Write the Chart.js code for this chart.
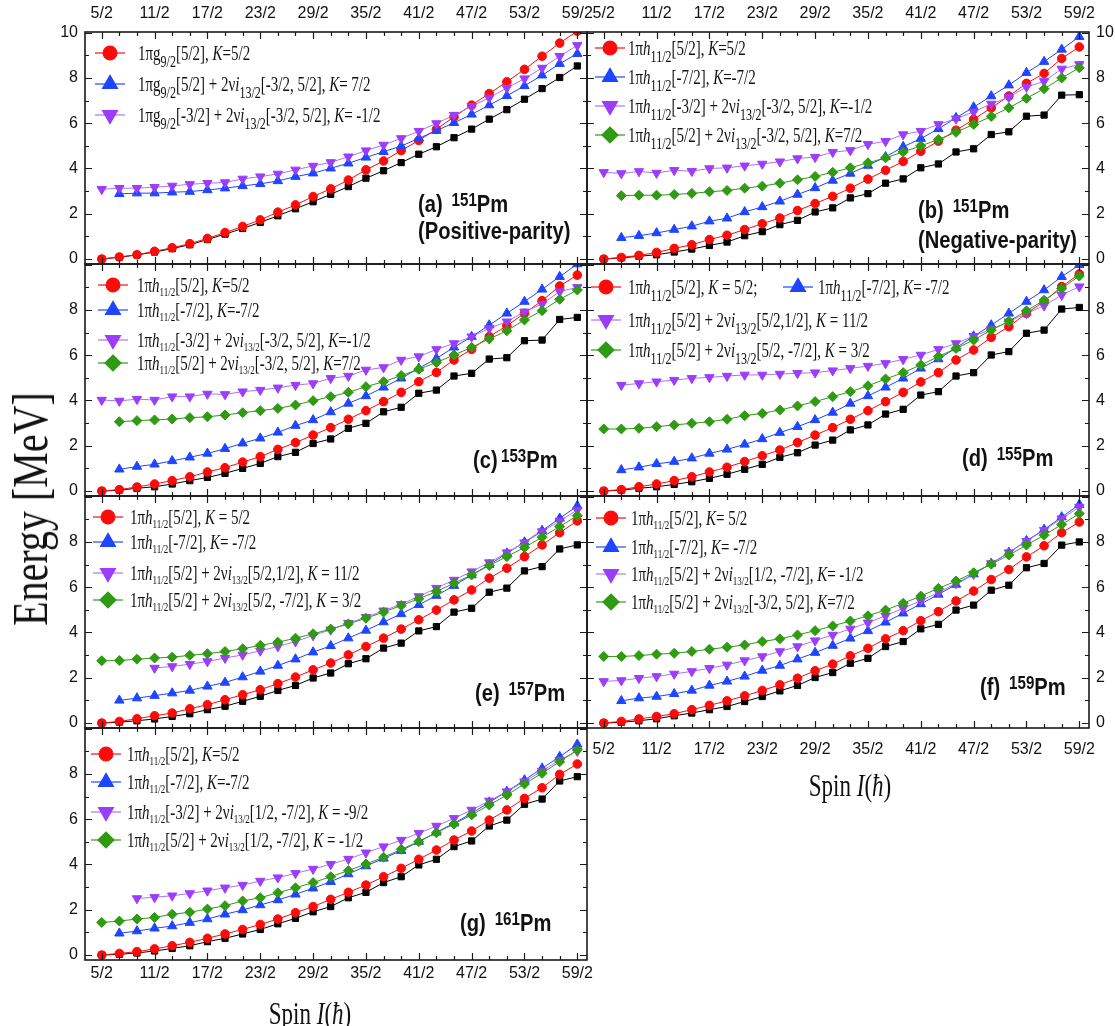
<!DOCTYPE html>
<html>
<head>
<meta charset="utf-8">
<script src="https://cdn.jsdelivr.net/npm/chart.js@4.4.0/dist/chart.umd.min.js"></script>
<style>
  body { margin: 0; background: #fff; }
  #fig { position: relative; width: 1115px; height: 1026px; overflow: hidden; background: #fff; }
  #fig canvas { position: absolute; }
  .leg { position: absolute; white-space: nowrap; font-family: "Liberation Serif", "Times New Roman", serif;
         font-size: 20px; line-height: 22px; color: #111; transform: scaleX(0.75); transform-origin: 0 50%; }
  .leg sub { font-size: 0.6em; vertical-align: -0.35em; line-height: 0; }
  .leg.big sub { font-size: 0.8em; vertical-align: -0.45em; }
  .tag { position: absolute; white-space: nowrap; font-family: "Liberation Sans", Arial, sans-serif;
         font-weight: bold; font-size: 24px; line-height: 26px; color: #111; transform: scaleX(0.84); transform-origin: 0 50%; }
  .tag sup { font-size: 0.75em; vertical-align: 0.35em; line-height: 0; margin-left: 4px; }
  .title { position: absolute; white-space: nowrap; font-family: "Liberation Serif", "Times New Roman", serif; color: #111; }
</style>
</head>
<body>
<div id="fig"></div>
<script>
"use strict";

// ── Data ────────────────────────────────────────────────────────────────
const spins = [2.5, 3.5, 4.5, 5.5, 6.5, 7.5, 8.5, 9.5, 10.5, 11.5, 12.5, 13.5, 14.5, 15.5,
  16.5, 17.5, 18.5, 19.5, 20.5, 21.5, 22.5, 23.5, 24.5, 25.5, 26.5, 27.5, 28.5, 29.5];
const spinTicks = [2.5, 5.5, 8.5, 11.5, 14.5, 17.5, 20.5, 23.5, 26.5, 29.5];
const spinLabels = ["5/2", "11/2", "17/2", "23/2", "29/2", "35/2", "41/2", "47/2", "53/2", "59/2"];
const energyTicks = [0, 2, 4, 6, 8, 10];
const energyMinor = [0, 1, 2, 3, 4, 5, 6, 7, 8, 9, 10];

// every series ends at I = 59/2; shorter ones start later
const aBlack = [0, 0.08, 0.18, 0.31, 0.46, 0.63, 0.86, 1.1, 1.35, 1.62, 1.91, 2.22, 2.53, 2.86, 3.2, 3.57, 3.9, 4.26, 4.63, 4.96, 5.36, 5.74, 6.18, 6.6, 7.06, 7.53, 8.02, 8.53];
const aRed = [0, 0.09, 0.19, 0.34, 0.5, 0.68, 0.91, 1.17, 1.44, 1.73, 2.07, 2.39, 2.76, 3.1, 3.49, 3.94, 4.33, 4.79, 5.24, 5.73, 6.28, 6.8, 7.31, 7.83, 8.38, 8.96, 9.54, 10.07];
const aBlue = [2.88, 2.91, 2.91, 2.95, 2.98, 3.05, 3.13, 3.23, 3.32, 3.45, 3.64, 3.79, 4.01, 4.23, 4.49, 4.74, 4.99, 5.33, 5.67, 6.02, 6.39, 6.8, 7.21, 7.65, 8.12, 8.63, 9.07];
const aPurple = [3.08, 3.13, 3.13, 3.17, 3.23, 3.3, 3.35, 3.38, 3.54, 3.64, 3.76, 3.94, 4.11, 4.27, 4.52, 4.79, 5.04, 5.33, 5.65, 5.99, 6.36, 6.75, 7.12, 7.56, 7.97, 8.44, 8.96, 9.44];

const bBlack = [0, 0.05, 0.12, 0.19, 0.31, 0.44, 0.6, 0.75, 1.03, 1.21, 1.52, 1.71, 2.08, 2.26, 2.7, 2.89, 3.35, 3.54, 4.03, 4.2, 4.73, 4.87, 5.5, 5.62, 6.31, 6.36, 7.24, 7.26];
const bRed = [0, 0.07, 0.16, 0.29, 0.47, 0.63, 0.86, 1.05, 1.3, 1.56, 1.81, 2.14, 2.45, 2.77, 3.13, 3.53, 3.92, 4.31, 4.76, 5.21, 5.69, 6.17, 6.68, 7.2, 7.76, 8.2, 8.86, 9.37];
const bBlue = [0.94, 1.03, 1.15, 1.3, 1.45, 1.67, 1.8, 2.08, 2.3, 2.55, 2.85, 3.14, 3.47, 3.78, 4.13, 4.51, 4.96, 5.32, 5.75, 6.24, 6.71, 7.2, 7.68, 8.23, 8.72, 9.26, 9.82];
const bPurple = [3.83, 3.78, 3.87, 3.8, 3.92, 3.88, 4.0, 4.03, 4.12, 4.2, 4.3, 4.44, 4.5, 4.72, 4.8, 5.07, 5.2, 5.5, 5.65, 5.95, 6.2, 6.5, 6.85, 7.15, 7.6, 7.85, 8.4, 8.6];
const bGreen = [2.8, 2.82, 2.82, 2.85, 2.9, 2.97, 3.03, 3.13, 3.22, 3.35, 3.5, 3.65, 3.83, 4.03, 4.25, 4.47, 4.73, 5.0, 5.28, 5.6, 5.95, 6.3, 6.68, 7.1, 7.52, 8.0, 8.45];

const cBlack = [0, 0.04, 0.12, 0.19, 0.31, 0.46, 0.6, 0.78, 1.0, 1.22, 1.52, 1.71, 2.1, 2.3, 2.77, 2.99, 3.5, 3.7, 4.32, 4.46, 5.08, 5.2, 5.83, 5.89, 6.64, 6.67, 7.58, 7.67];
const cRed = [0, 0.06, 0.18, 0.31, 0.46, 0.63, 0.84, 1.03, 1.28, 1.52, 1.84, 2.14, 2.47, 2.8, 3.17, 3.55, 3.95, 4.36, 4.83, 5.24, 5.79, 6.26, 6.82, 7.3, 7.85, 8.41, 9.06, 9.54];
const cBlue = [0.96, 1.08, 1.18, 1.33, 1.49, 1.66, 1.87, 2.11, 2.33, 2.59, 2.89, 3.14, 3.49, 3.87, 4.2, 4.58, 4.98, 5.42, 5.86, 6.35, 6.82, 7.33, 7.85, 8.37, 8.91, 9.47, 10.03];
const cPurple = [4.02, 3.98, 4.06, 4.02, 4.17, 4.17, 4.29, 4.27, 4.39, 4.46, 4.56, 4.68, 4.75, 4.98, 5.08, 5.35, 5.46, 5.79, 5.94, 6.26, 6.52, 6.82, 7.19, 7.48, 7.92, 8.26, 8.81, 9.0];
const cGreen = [3.06, 3.11, 3.14, 3.18, 3.24, 3.28, 3.36, 3.46, 3.55, 3.65, 3.8, 3.99, 4.17, 4.36, 4.61, 4.83, 5.1, 5.38, 5.68, 6.01, 6.35, 6.72, 7.08, 7.56, 7.97, 8.47, 8.88];

const dBlack = [0, 0.04, 0.12, 0.19, 0.29, 0.41, 0.56, 0.74, 0.96, 1.18, 1.49, 1.69, 2.03, 2.25, 2.7, 2.92, 3.4, 3.61, 4.24, 4.39, 5.08, 5.23, 6.01, 6.16, 6.97, 7.11, 8.04, 8.11];
const dRed = [0, 0.06, 0.19, 0.31, 0.46, 0.63, 0.84, 1.05, 1.3, 1.56, 1.81, 2.14, 2.47, 2.8, 3.17, 3.55, 3.95, 4.36, 4.82, 5.23, 5.79, 6.23, 6.79, 7.26, 7.85, 8.37, 9.03, 9.59];
const dBlue = [0.93, 1.05, 1.2, 1.3, 1.45, 1.66, 1.84, 2.06, 2.3, 2.58, 2.84, 3.14, 3.47, 3.87, 4.2, 4.58, 4.98, 5.42, 5.83, 6.32, 6.84, 7.33, 7.85, 8.37, 8.88, 9.47, 9.99];
const dPurple = [4.68, 4.75, 4.83, 4.9, 4.98, 5.02, 5.08, 5.13, 5.13, 5.17, 5.2, 5.23, 5.32, 5.42, 5.52, 5.64, 5.82, 6.01, 6.26, 6.52, 6.84, 7.14, 7.48, 7.85, 8.19, 8.66, 9.03];
const dGreen = [2.74, 2.74, 2.77, 2.84, 2.92, 2.99, 3.06, 3.17, 3.33, 3.43, 3.58, 3.76, 3.95, 4.17, 4.39, 4.65, 4.95, 5.23, 5.57, 5.94, 6.3, 6.67, 7.11, 7.5, 7.96, 8.43, 8.95, 9.5];

const eBlack = [0, 0.04, 0.1, 0.18, 0.29, 0.41, 0.59, 0.74, 0.96, 1.18, 1.44, 1.66, 1.99, 2.21, 2.62, 2.84, 3.31, 3.53, 4.07, 4.26, 4.9, 5.07, 5.78, 5.96, 6.72, 6.91, 7.69, 7.87];
const eRed = [0, 0.07, 0.19, 0.32, 0.44, 0.63, 0.81, 1.03, 1.25, 1.47, 1.74, 2.03, 2.35, 2.65, 3.01, 3.38, 3.75, 4.15, 4.56, 4.99, 5.44, 5.88, 6.4, 6.84, 7.35, 7.87, 8.41, 8.93];
const eBlue = [1.0, 1.1, 1.21, 1.32, 1.44, 1.62, 1.79, 2.03, 2.28, 2.54, 2.82, 3.13, 3.41, 3.75, 4.09, 4.46, 4.82, 5.22, 5.63, 6.07, 6.54, 6.99, 7.5, 7.99, 8.5, 9.04, 9.59];
const ePurple = [2.43, 2.5, 2.6, 2.72, 2.87, 3.01, 3.19, 3.38, 3.6, 3.87, 4.12, 4.41, 4.68, 4.96, 5.25, 5.59, 5.96, 6.32, 6.69, 7.09, 7.53, 7.97, 8.46, 8.93, 9.41];
const eGreen = [2.75, 2.76, 2.82, 2.87, 2.91, 2.99, 3.06, 3.16, 3.28, 3.43, 3.57, 3.75, 3.94, 4.15, 4.38, 4.63, 4.9, 5.19, 5.49, 5.81, 6.18, 6.54, 6.96, 7.35, 7.76, 8.21, 8.68, 9.16];

const fBlack = [0, 0.03, 0.1, 0.19, 0.32, 0.44, 0.59, 0.73, 0.95, 1.17, 1.42, 1.66, 2.01, 2.23, 2.64, 2.86, 3.38, 3.6, 4.16, 4.36, 4.99, 5.21, 5.87, 6.09, 6.86, 7.05, 7.86, 8.0];
const fRed = [0, 0.07, 0.18, 0.29, 0.41, 0.59, 0.78, 0.98, 1.2, 1.44, 1.69, 1.98, 2.31, 2.6, 2.97, 3.3, 3.72, 4.08, 4.52, 4.92, 5.39, 5.83, 6.34, 6.78, 7.34, 7.83, 8.41, 8.88];
const fBlue = [0.98, 1.1, 1.17, 1.29, 1.44, 1.66, 1.84, 2.06, 2.32, 2.54, 2.82, 3.11, 3.42, 3.74, 4.07, 4.45, 4.85, 5.26, 5.68, 6.12, 6.58, 7.05, 7.53, 8.05, 8.55, 9.1, 9.65];
const fPurple = [1.84, 1.88, 1.98, 2.06, 2.17, 2.28, 2.42, 2.57, 2.76, 2.94, 3.16, 3.38, 3.64, 3.89, 4.16, 4.43, 4.74, 5.07, 5.4, 5.77, 6.17, 6.58, 7.05, 7.53, 8.03, 8.52, 9.03, 9.54];
const fGreen = [2.94, 2.94, 2.98, 3.04, 3.08, 3.16, 3.26, 3.35, 3.45, 3.6, 3.72, 3.89, 4.08, 4.29, 4.51, 4.74, 4.99, 5.29, 5.61, 5.95, 6.27, 6.64, 7.02, 7.42, 7.86, 8.3, 8.77, 9.25];

const gBlack = [0, 0.03, 0.09, 0.18, 0.29, 0.41, 0.59, 0.74, 0.93, 1.13, 1.38, 1.62, 1.91, 2.14, 2.53, 2.77, 3.2, 3.46, 3.98, 4.23, 4.79, 5.04, 5.7, 5.96, 6.66, 6.89, 7.69, 7.88];
const gRed = [0, 0.07, 0.15, 0.27, 0.41, 0.56, 0.74, 0.93, 1.13, 1.35, 1.59, 1.87, 2.14, 2.46, 2.77, 3.09, 3.46, 3.83, 4.23, 4.64, 5.08, 5.48, 5.96, 6.41, 6.92, 7.39, 7.98, 8.44];
const gBlue = [0.96, 1.06, 1.18, 1.28, 1.43, 1.59, 1.8, 1.99, 2.21, 2.43, 2.68, 2.95, 3.24, 3.58, 3.93, 4.27, 4.61, 5.01, 5.42, 5.82, 6.26, 6.75, 7.22, 7.73, 8.25, 8.76, 9.31];
const gPurple = [2.5, 2.55, 2.62, 2.72, 2.84, 2.97, 3.09, 3.27, 3.42, 3.61, 3.8, 4.01, 4.24, 4.52, 4.79, 5.08, 5.38, 5.7, 6.04, 6.41, 6.81, 7.22, 7.66, 8.13, 8.62, 9.01];
const gGreen = [1.44, 1.5, 1.59, 1.66, 1.8, 1.89, 2.03, 2.18, 2.39, 2.53, 2.75, 2.97, 3.2, 3.46, 3.73, 4.02, 4.32, 4.67, 5.01, 5.4, 5.79, 6.19, 6.63, 7.07, 7.56, 8.03, 8.54, 9.06];

// ── Legend texts ────────────────────────────────────────────────────────
const hRed = '1π<i>h</i><sub>11/2</sub>[5/2], ';
const hBlue = '1π<i>h</i><sub>11/2</sub>[-7/2], ';
const legendA = [
  '1πg<sub>9/2</sub>[5/2], <i>K</i>=5/2',
  '1πg<sub>9/2</sub>[5/2] + 2ν<i>i</i><sub>13/2</sub>[-3/2, 5/2], <i>K</i>= 7/2',
  '1πg<sub>9/2</sub>[-3/2] + 2ν<i>i</i><sub>13/2</sub>[-3/2, 5/2], <i>K</i>= -1/2',
];
const legendB = [
  hRed + '<i>K</i>=5/2',
  hBlue + '<i>K</i>=-7/2',
  '1π<i>h</i><sub>11/2</sub>[-3/2] + 2ν<i>i</i><sub>13/2</sub>[-3/2, 5/2], <i>K</i>=-1/2',
  '1π<i>h</i><sub>11/2</sub>[5/2] + 2ν<i>i</i><sub>13/2</sub>[-3/2, 5/2], <i>K</i>=7/2',
];
const legendD = [
  hRed + '<i>K</i> = 5/2;',
  hBlue + '<i>K</i>= -7/2',
  '1π<i>h</i><sub>11/2</sub>[5/2] + 2ν<i>i</i><sub>13/2</sub>[5/2,1/2], <i>K</i> = 11/2',
  '1π<i>h</i><sub>11/2</sub>[5/2] + 2ν<i>i</i><sub>13/2</sub>[5/2, -7/2], <i>K</i> = 3/2',
];
const legendE = [
  hRed + '<i>K</i> = 5/2',
  hBlue + '<i>K</i>= -7/2',
  '1π<i>h</i><sub>11/2</sub>[5/2] + 2ν<i>i</i><sub>13/2</sub>[5/2,1/2], <i>K</i> = 11/2',
  '1π<i>h</i><sub>11/2</sub>[5/2] + 2ν<i>i</i><sub>13/2</sub>[5/2, -7/2], <i>K</i> = 3/2',
];
const legendF = [
  hRed + '<i>K</i>= 5/2',
  hBlue + '<i>K</i>= -7/2',
  '1π<i>h</i><sub>11/2</sub>[5/2] + 2ν<i>i</i><sub>13/2</sub>[1/2, -7/2], <i>K</i>= -1/2',
  '1π<i>h</i><sub>11/2</sub>[5/2] + 2ν<i>i</i><sub>13/2</sub>[-3/2, 5/2], <i>K</i>=7/2',
];
const legendG = [
  hRed + '<i>K</i>=5/2',
  hBlue + '<i>K</i>=-7/2',
  '1π<i>h</i><sub>11/2</sub>[-3/2] + 2ν<i>i</i><sub>13/2</sub>[1/2, -7/2], <i>K</i> = -9/2',
  '1π<i>h</i><sub>11/2</sub>[5/2] + 2ν<i>i</i><sub>13/2</sub>[1/2, -7/2], <i>K</i> = -1/2',
];

// ── Styles / layout ─────────────────────────────────────────────────────
const STYLE = {
  black:  { color: "#000000", point: "rect", r: 4.4, order: 5 },
  red:    { color: "#ff0a0a", point: "circle", r: 4.3, order: 4 },
  blue:   { color: "#1f45ff", point: "triangle", r: 5.4, order: 3 },
  purple: { color: "#9b3dfa", line: "#a874ff", point: "triangle", r: 5.4, rot: 180, order: 2 },
  green:  { color: "#2f9a12", point: "rectRot", r: 5, order: 1 },
};
const COL_X = [85, 587], ROW_Y = [32, 264, 496, 728];
const FW = 502, FH = 232, M = 45;
const X_MIN = 1.55, X_MAX = 30.05, Y_MIN = -0.22, Y_MAX = 10.03;
const TICK_FONT = { family: "'Liberation Sans', Arial, sans-serif", size: 16 };

const panels = [
  { col: 0, row: 0, xPos: "top", xLabels: true, xPad: 9, ten: true, big: true,
    series: { black: aBlack, red: aRed, blue: aBlue, purple: aPurple },
    legend: [["red", 25, 21, 53, 0], ["blue", 25, 52, 53, 1], ["purple", 25, 83, 53, 2]], texts: legendA,
    tags: [[418, 204, '(a) <sup>151</sup>Pm'], [418, 231, '(Positive-parity)']] },
  { col: 1, row: 0, xPos: "top", xLabels: true, xPad: 9, ten: true, big: true,
    series: { black: bBlack, red: bRed, blue: bBlue, purple: bPurple, green: bGreen },
    legend: [["red", 23, 16, 41, 0], ["blue", 23, 45, 41, 1], ["purple", 23, 74, 41, 2], ["green", 23, 103, 41, 3]], texts: legendB,
    tags: [[918, 210, '(b) <sup>151</sup>Pm'], [918, 240, '(Negative-parity)']] },
  { col: 0, row: 1, xPos: "bottom", xLabels: false, xPad: 0, ten: false, big: false,
    series: { black: cBlack, red: cRed, blue: cBlue, purple: cPurple, green: cGreen },
    legend: [["red", 28, 21, 52, 0], ["blue", 28, 46, 52, 1], ["purple", 28, 76, 52, 2], ["green", 28, 99, 52, 3]], texts: legendB,
    tags: [[473, 460, '(c)<sup>153</sup>Pm']] },
  { col: 1, row: 1, xPos: "bottom", xLabels: false, xPad: 0, ten: false, big: true,
    series: { black: dBlack, red: dRed, blue: dBlue, purple: dPurple, green: dGreen },
    legend: [["red", 19, 23, 41, 0], ["blue", 211, 23, 231, 1], ["purple", 19, 56, 41, 2], ["green", 19, 86, 41, 3]], texts: legendD,
    tags: [[962, 458, '(d) <sup>155</sup>Pm']] },
  { col: 0, row: 2, xPos: "bottom", xLabels: false, xPad: 0, ten: false, big: false,
    series: { black: eBlack, red: eRed, blue: eBlue, purple: ePurple, green: eGreen },
    legend: [["red", 23, 21, 45, 0], ["blue", 23, 46, 45, 1], ["purple", 23, 77, 45, 2], ["green", 23, 104, 45, 3]], texts: legendE,
    tags: [[475, 693, '(e) <sup>157</sup>Pm']] },
  { col: 1, row: 2, xPos: "bottom", xLabels: true, xPad: 12, ten: false, big: false,
    series: { black: fBlack, red: fRed, blue: fBlue, purple: fPurple, green: fGreen },
    legend: [["red", 24, 22, 44, 0], ["blue", 24, 51, 44, 1], ["purple", 24, 78, 44, 2], ["green", 24, 106, 44, 3]], texts: legendF,
    tags: [[980, 687, '(f) <sup>159</sup>Pm']] },
  { col: 0, row: 3, xPos: "bottom", xLabels: true, xPad: 4, ten: false, big: false,
    series: { black: gBlack, red: gRed, blue: gBlue, purple: gPurple, green: gGreen },
    legend: [["red", 21, 26, 42, 0], ["blue", 21, 54, 42, 1], ["purple", 21, 84, 42, 2], ["green", 21, 112, 42, 3]], texts: legendG,
    tags: [[460, 923, '(g) <sup>161</sup>Pm']] },
];

// ── Frame, inward ticks and legend samples ──────────────────────────────
const framePlugin = {
  id: "framePlugin",
  afterDatasetsDraw(chart, args, opts) {
    const { ctx, chartArea: a, scales: { x, y } } = chart;
    ctx.save();
    ctx.strokeStyle = "#1a1a1a";
    ctx.lineWidth = 1.2;
    ctx.beginPath();
    spins.forEach((v) => {
      const px = Math.round(x.getPixelForValue(v)) + 0.5;
      const len = spinTicks.includes(v) ? 7 : 4;
      ctx.moveTo(px, a.bottom); ctx.lineTo(px, a.bottom - len);
      ctx.moveTo(px, a.top); ctx.lineTo(px, a.top + len);
    });
    energyMinor.forEach((v) => {
      const py = Math.round(y.getPixelForValue(v)) + 0.5;
      const len = energyTicks.includes(v) ? 7 : 4;
      ctx.moveTo(a.left, py); ctx.lineTo(a.left + len, py);
      ctx.moveTo(a.right, py); ctx.lineTo(a.right - len, py);
    });
    ctx.stroke();
    ctx.lineWidth = 1.6;
    ctx.strokeRect(a.left, a.top, a.width, a.height);

    (opts.samples || []).forEach(([name, mx, my]) => {
      const st = STYLE[name];
      const cx = a.left + mx, cy = a.top + my;
      ctx.strokeStyle = st.line || st.color;
      ctx.lineWidth = 1.2;
      ctx.beginPath(); ctx.moveTo(cx - 15, cy); ctx.lineTo(cx + 15, cy); ctx.stroke();
      ctx.fillStyle = st.color;
      ctx.strokeStyle = st.color;
      Chart.helpers.drawPoint(ctx, { pointStyle: st.point, radius: st.r * 1.6, rotation: st.rot || 0, borderWidth: 1 }, cx, cy);
    });
    ctx.restore();
  },
};

// ── Build panels ────────────────────────────────────────────────────────
const fig = document.getElementById("fig");

function addText(cls, left, top, html, style) {
  const el = document.createElement("div");
  el.className = cls;
  el.style.left = left + "px";
  el.style.top = top + "px";
  if (style) Object.assign(el.style, style);
  el.innerHTML = html;
  fig.appendChild(el);
  return el;
}

panels.forEach((p) => {
  const fx = COL_X[p.col], fy = ROW_Y[p.row];
  const canvas = document.createElement("canvas");
  canvas.width = FW + 2 * M;
  canvas.height = FH + 2 * M;
  canvas.style.left = fx - M + "px";
  canvas.style.top = fy - M + "px";
  fig.appendChild(canvas);

  const yPos = p.col === 0 ? "left" : "right";
  const datasets = Object.entries(p.series).map(([name, vals]) => {
    const st = STYLE[name];
    const off = spins.length - vals.length;
    return {
      label: name,
      data: vals.map((v, i) => ({ x: spins[off + i], y: v })),
      borderColor: st.line || st.color,
      backgroundColor: st.color,
      borderWidth: 1,
      pointStyle: st.point,
      pointRadius: st.r,
      pointRotation: st.rot || 0,
      pointBackgroundColor: st.color,
      pointBorderColor: st.color,
      pointBorderWidth: 1,
      tension: 0,
      order: st.order,
    };
  });

  new Chart(canvas, {
    type: "line",
    data: { datasets },
    options: {
      responsive: false,
      animation: false,
      devicePixelRatio: 1,
      layout: {
        padding: {
          left: yPos === "left" ? 0 : M,
          right: yPos === "right" ? 0 : M,
          top: p.xPos === "top" ? 0 : M,
          bottom: p.xPos === "bottom" ? 0 : M,
        },
      },
      scales: {
        x: {
          type: "linear", position: p.xPos, min: X_MIN, max: X_MAX,
          grid: { display: false, drawTicks: false }, border: { display: false },
          afterBuildTicks: (s) => { s.ticks = spinTicks.map((v) => ({ value: v })); },
          afterFit: (s) => { s.height = M; },
          ticks: { display: p.xLabels, padding: p.xPad, autoSkip: false, maxRotation: 0, color: "#111", font: TICK_FONT,
                   callback: (v, i) => spinLabels[i] },
        },
        y: {
          type: "linear", position: yPos, min: Y_MIN, max: Y_MAX,
          grid: { display: false, drawTicks: false }, border: { display: false },
          afterBuildTicks: (s) => { s.ticks = energyTicks.map((v) => ({ value: v })); },
          afterFit: (s) => { s.width = M; },
          ticks: { padding: 7, color: "#111", font: TICK_FONT,
                   callback: (v) => (v === 10 && !p.ten ? "" : String(v)) },
        },
      },
      plugins: {
        legend: { display: false },
        tooltip: { enabled: false },
        framePlugin: { samples: p.legend },
      },
    },
    plugins: [framePlugin],
  });

  p.legend.forEach(([name, mx, my, tx, ti]) => {
    addText("leg" + (p.big ? " big" : ""), fx + tx, fy + my - 11, p.texts[ti]);
  });
  p.tags.forEach(([tx, ty, html]) => addText("tag", tx, ty - 13, html));
});

// ── Axis titles ─────────────────────────────────────────────────────────
addText("title", 30, 509, "Energy [MeV]", {
  fontSize: "50px", lineHeight: "50px", transform: "translate(-50%, -50%) rotate(-90deg) scaleX(0.8)",
});
addText("title", 310, 1013, "Spin <i>I</i>(<i>ħ</i>)", {
  fontSize: "32px", lineHeight: "34px", transform: "translate(-50%, -50%) scaleX(0.72)",
});
addText("title", 850, 785, "Spin <i>I</i>(<i>ħ</i>)", {
  fontSize: "32px", lineHeight: "34px", transform: "translate(-50%, -50%) scaleX(0.72)",
});
</script>
</body>
</html>
